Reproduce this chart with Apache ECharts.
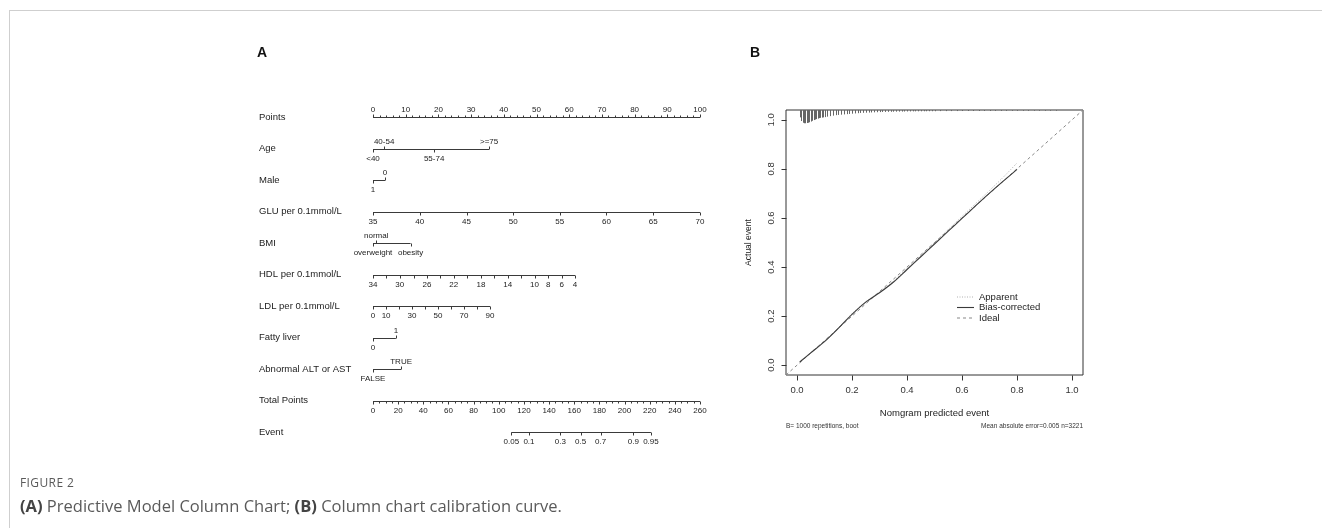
<!DOCTYPE html>
<html><head><meta charset="utf-8">
<script src="https://cdn.jsdelivr.net/npm/echarts@6/dist/echarts.min.js"></script>
<style>
html,body{margin:0;padding:0;background:#fff;}
#wrap{position:relative;width:1322px;height:528px;overflow:hidden;background:#fff;}
#frame{position:absolute;left:9px;top:10px;width:1400px;height:600px;border-top:1px solid #cfcfcf;border-left:1px solid #cfcfcf;}
#chart{position:absolute;left:0;top:0;width:1322px;height:528px;}
#fig{position:absolute;left:20px;top:475px;font-family:'Open Sans',sans-serif;font-size:12px;color:#5a5a5a;letter-spacing:0.4px;line-height:16px;}
#cap{position:absolute;left:20px;top:495px;font-family:'Open Sans',sans-serif;font-size:16.5px;color:#5a5a5a;line-height:22px;}
#cap b{font-weight:700;color:#444;}
</style></head>
<body>
<div id="wrap">
<div id="frame"></div>
<div id="chart"></div>
<div id="fig">FIGURE 2</div>
<div id="cap"><b>(A)</b> Predictive Model Column Chart; <b>(B)</b> Column chart calibration curve.</div>
</div>
<script>
// ---------------- Panel A data (nomogram) ----------------
const rowNames = ['Points','Age','Male','GLU per 0.1mmol/L','BMI','HDL per 0.1mmol/L','LDL per 0.1mmol/L','Fatty liver','Abnormal ALT or AST','Total Points','Event'];
const pointsLabels = [0,10,20,30,40,50,60,70,80,90,100];
const ageLevels = ['<40','40-54','55-74','>=75'];
const agePoints = [0, 3.4, 18.7, 35.5];
const ageSide   = ['down','up','down','up'];
const maleLevels = ['1','0'];
const malePoints = [0, 3.7];
const maleSide   = ['down','up'];
const gluValues = [35,40,45,50,55,60,65,70];
const gluPoints = [0,14.3,28.6,42.9,57.1,71.4,85.7,100];
const bmiLevels = ['overweight','normal','obesity'];
const bmiPoints = [0, 1, 11.5];
const bmiSide   = ['down','up','down'];
const hdlValues = [34,32,30,28,26,24,22,20,18,16,14,12,10,8,6,4];
const hdlLabelled = [34,30,26,22,18,14,10,8,6,4];
const hdlPoints = [0,4.1,8.2,12.4,16.5,20.6,24.7,28.8,33.0,37.1,41.2,45.3,49.4,53.6,57.7,61.8];
const ldlValues = [0,10,20,30,40,50,60,70,80,90];
const ldlLabelled = [0,10,30,50,70,90];
const ldlPoints = [0,4.0,8.0,11.9,15.9,19.9,23.9,27.8,31.8,35.8];
const fattyLevels = ['0','1'];
const fattyPoints = [0, 7];
const fattySide = ['down','up'];
const altLevels = ['FALSE','TRUE'];
const altPoints = [0, 8.6];
const altSide = ['down','up'];
const totalLabels = [0,20,40,60,80,100,120,140,160,180,200,220,240,260];
const totalMax = 260;
const eventProb  = [0.05,0.1,0.3,0.5,0.7,0.9,0.95];
const eventTotal = [110,124,149,165,181,207,221];

// ---------------- Panel B data (calibration) ----------------
const calTicks = [0,0.2,0.4,0.6,0.8,1.0];
const predX      = [0.01,0.05,0.10,0.15,0.20,0.25,0.30,0.35,0.40,0.45,0.50,0.55,0.60,0.65,0.70,0.75,0.80];
const biasY      = [0.013,0.050,0.096,0.150,0.207,0.257,0.295,0.338,0.390,0.442,0.494,0.546,0.598,0.650,0.701,0.750,0.798];
const apparentY  = [0.016,0.052,0.099,0.152,0.210,0.259,0.298,0.342,0.394,0.447,0.500,0.553,0.606,0.659,0.712,0.766,0.824];
const idealX = [-0.04, 1.04];
const idealY = [-0.04, 1.04];
const legendNames = ['Apparent','Bias-corrected','Ideal'];
const histX = [0.01,0.015,0.02,0.025,0.03,0.035,0.04,0.045,0.05,0.055,0.06,0.065,0.07,0.075,0.08,0.085,0.09,0.095,0.10,
  0.11,0.12,0.13,0.14,0.15,0.16,0.17,0.18,0.19,0.20,
  0.21,0.22,0.23,0.24,0.25,0.26,0.27,0.28,0.29,0.30,0.31,0.32,0.33,0.34,0.35,0.36,0.37,0.38,0.39,0.40,
  0.41,0.42,0.43,0.44,0.45,0.46,0.47,0.48,0.49,0.50,0.52,0.54,0.56,0.58,0.60,0.62,0.64,0.66,0.68,0.70,
  0.72,0.74,0.76,0.78,0.80,0.82,0.84,0.86,0.88,0.90,0.92,0.94];
const histH = [0.030,0.045,0.052,0.054,0.054,0.053,0.052,0.050,0.047,0.044,0.041,0.039,0.037,0.035,0.033,0.032,0.031,0.030,0.029,
  0.027,0.025,0.023,0.021,0.020,0.019,0.018,0.017,0.016,0.015,
  0.014,0.013,0.012,0.0115,0.011,0.0105,0.010,0.0095,0.009,0.0085,0.008,0.0078,0.0075,0.0072,0.007,0.0068,0.0066,0.0064,0.0062,0.006,
  0.0058,0.0056,0.0055,0.0054,0.0053,0.0052,0.0051,0.005,0.005,0.005,0.0045,0.0045,0.0044,0.0043,0.0042,0.0041,0.004,0.004,0.004,0.004,
  0.0038,0.0037,0.0036,0.0035,0.0034,0.0033,0.0032,0.0031,0.003,0.003,0.003,0.003];

// ---------------- build nomogram row table ----------------
function lv(levels, pts, side){ return levels.map((l,i)=>({x:pts[i], label:l, up: side[i]==='up'})); }
const rows = [];
{ // Points
  const t = [];
  for (let v = 0; v <= 100; v += 2) t.push({x:v, label: pointsLabels.includes(v) ? String(v) : null, up:true, minor: !pointsLabels.includes(v)});
  rows.push({ticks:t, up:true});
}
rows.push({ticks: lv(ageLevels, agePoints, ageSide)});
rows.push({ticks: lv(maleLevels, malePoints, maleSide)});
rows.push({ticks: gluValues.map((v,i)=>({x:gluPoints[i], label:String(v), up:false}))});
rows.push({ticks: lv(bmiLevels, bmiPoints, bmiSide)});
rows.push({ticks: hdlValues.map((v,i)=>({x:hdlPoints[i], label: hdlLabelled.includes(v)?String(v):null, up:false}))});
rows.push({ticks: ldlValues.map((v,i)=>({x:ldlPoints[i], label: ldlLabelled.includes(v)?String(v):null, up:false}))});
rows.push({ticks: lv(fattyLevels, fattyPoints, fattySide)});
rows.push({ticks: lv(altLevels, altPoints, altSide)});
{ // Total points
  const t = [];
  for (let v = 0; v <= totalMax; v += 5) t.push({x: v*100/totalMax, label: totalLabels.includes(v)?String(v):null, up:false, minor: !totalLabels.includes(v)});
  rows.push({ticks:t});
}
rows.push({ticks: eventProb.map((p,i)=>({x: eventTotal[i]*100/totalMax, label:String(p), up:false}))});

const INK = '#3a3a3a', TXT = '#222';
const FONT = '"Liberation Sans", Arial, sans-serif';

function renderRow(params, api){
  const idx = api.value(0);
  const r = rows[idx];
  const xs = r.ticks.map(t=>t.x);
  const a = api.coord([Math.min(...xs), idx]);
  const b = api.coord([Math.max(...xs), idx]);
  const y = Math.round(a[1]) + 0.5;
  const ch = [{type:'line', shape:{x1:a[0], y1:y, x2:b[0], y2:y}, style:{stroke:INK, lineWidth:1}}];
  r.ticks.forEach(t=>{
    const c = api.coord([t.x, idx]);
    const x = Math.round(c[0]) + 0.5;
    const len = t.minor ? 2 : 3;
    const d = t.up ? -1 : 1;
    ch.push({type:'line', shape:{x1:x, y1:y, x2:x, y2:y + d*len}, style:{stroke:INK, lineWidth:1}});
    if (t.label != null) {
      ch.push({type:'text', x:c[0], y: t.up ? y-4 : y+5,
        style:{text:t.label, fill:TXT, font:'8px '+FONT, align:'center', verticalAlign: t.up?'bottom':'top'}});
    }
  });
  return {type:'group', children: ch};
}

function renderSpike(params, api){
  const p = api.coord([api.value(0), 1.04]);
  const q = api.coord([api.value(0), 1.04 - api.value(1)]);
  const x = Math.round(p[0]) + 0.5;
  return {type:'line', shape:{x1:x, y1:p[1], x2:x, y2:q[1]}, style:{stroke:'#666', lineWidth:1}};
}

// outward axis ticks of the calibration box at the tick values
function renderCalTicks(params, api){
  const v = api.value(0);
  const bx = api.coord([v, -0.04]);
  const ly = api.coord([-0.04, v]);
  const x = Math.round(bx[0]) + 0.5, yb = Math.round(bx[1]) + 0.5;
  const y = Math.round(ly[1]) + 0.5, xl = Math.round(ly[0]) + 0.5;
  return {type:'group', children:[
    {type:'line', shape:{x1:x, y1:yb, x2:x, y2:yb+5}, style:{stroke:'#333', lineWidth:1}},
    {type:'line', shape:{x1:xl, y1:y, x2:xl-5, y2:y}, style:{stroke:'#333', lineWidth:1}}
  ]};
}

// legend drawn as line samples + text, one row per series name
const legendStyles = [
  {stroke:'#b0b0b0', lineWidth:1, lineDash:[1,1.5]},
  {stroke:'#3a3a3a', lineWidth:1.1},
  {stroke:'#888', lineWidth:1, lineDash:[3,3]}
];
const legendGraphics = [];
legendNames.forEach((n,i)=>{
  const yy = 297 + i*10.5;
  legendGraphics.push({type:'line', shape:{x1:957, y1:yy, x2:974, y2:yy}, style:legendStyles[i], silent:true});
  legendGraphics.push({type:'text', x:979, y:yy, style:{text:n, font:'9.5px '+FONT, fill:'#222', verticalAlign:'middle'}, silent:true});
});

const chart = echarts.init(document.getElementById('chart'), null, {renderer:'canvas'});
chart.setOption({
  animation:false,
  textStyle:{fontFamily:FONT},
  grid:[
    {left:373, top:117, width:327, height:315, outerBoundsMode:'none', containLabel:false},
    {left:786, top:110, width:297, height:265, show:true, borderColor:'#333', borderWidth:1, backgroundColor:'transparent', outerBoundsMode:'none', containLabel:false}
  ],
  xAxis:[
    {gridIndex:0, type:'value', min:0, max:100, show:false},
    {gridIndex:1, type:'value', min:-0.04, max:1.04, position:'bottom',
      axisLine:{show:false, onZero:false}, splitLine:{show:false}, axisTick:{show:false},
      axisLabel:{show:true, customValues:calTicks, formatter:v=>v.toFixed(1), fontSize:9.5, color:'#333', margin:10},
      name:'Nomgram predicted event', nameLocation:'middle', nameGap:33,
      nameTextStyle:{fontSize:9.5, color:'#222'}}
  ],
  yAxis:[
    {gridIndex:0, type:'value', min:0, max:10, interval:1, inverse:true,
      axisLine:{show:false}, axisTick:{show:false}, splitLine:{show:false},
      axisLabel:{formatter:v=>rowNames[v] || '', align:'left', margin:114, fontSize:9.5, color:TXT}},
    {gridIndex:1, type:'value', min:-0.04, max:1.04, position:'left',
      axisLine:{show:false, onZero:false}, splitLine:{show:false}, axisTick:{show:false},
      axisLabel:{show:true, customValues:calTicks, formatter:v=>v.toFixed(1), fontSize:9.5, color:'#333', rotate:90, margin:10},
      name:'Actual event', nameLocation:'middle', nameGap:33, nameRotate:90,
      nameTextStyle:{fontSize:8.5, color:'#222'}}
  ],
  graphic:[
    {type:'text', left:257, top:46, style:{text:'A', font:'bold 14px '+FONT, fill:'#111'}},
    {type:'text', left:750, top:46, style:{text:'B', font:'bold 14px '+FONT, fill:'#111'}},
    {type:'text', left:786, top:423, style:{text:'B= 1000 repetitions, boot', font:'6.5px '+FONT, fill:'#333'}},
    {type:'text', right:1322-1083, top:423, style:{text:'Mean absolute error=0.005 n=3221', font:'6.5px '+FONT, fill:'#333'}}
  ].concat(legendGraphics),
  series:[
    {type:'custom', xAxisIndex:0, yAxisIndex:0, renderItem:renderRow, data: rows.map((r,i)=>[i]), silent:true},
    {type:'custom', xAxisIndex:1, yAxisIndex:1, renderItem:renderCalTicks, data: calTicks.map(v=>[v]), silent:true, clip:false},
    {type:'custom', xAxisIndex:1, yAxisIndex:1, renderItem:renderSpike, data: histX.map((x,i)=>[x, histH[i]]), silent:true, clip:false},
    {name:'Ideal', type:'line', xAxisIndex:1, yAxisIndex:1, symbol:'none', data: idealX.map((x,i)=>[x, idealY[i]]),
      lineStyle:{color:'#888', width:1, type:[3,3]}},
    {name:'Apparent', type:'line', xAxisIndex:1, yAxisIndex:1, symbol:'none', smooth:0.3, data: predX.map((x,i)=>[x, apparentY[i]]),
      lineStyle:{color:'#b0b0b0', width:1, type:[1,1.5]}},
    {name:'Bias-corrected', type:'line', xAxisIndex:1, yAxisIndex:1, symbol:'none', smooth:0.3, data: predX.map((x,i)=>[x, biasY[i]]),
      lineStyle:{color:'#3a3a3a', width:1.1}}
  ]
});
</script>
</body></html>
